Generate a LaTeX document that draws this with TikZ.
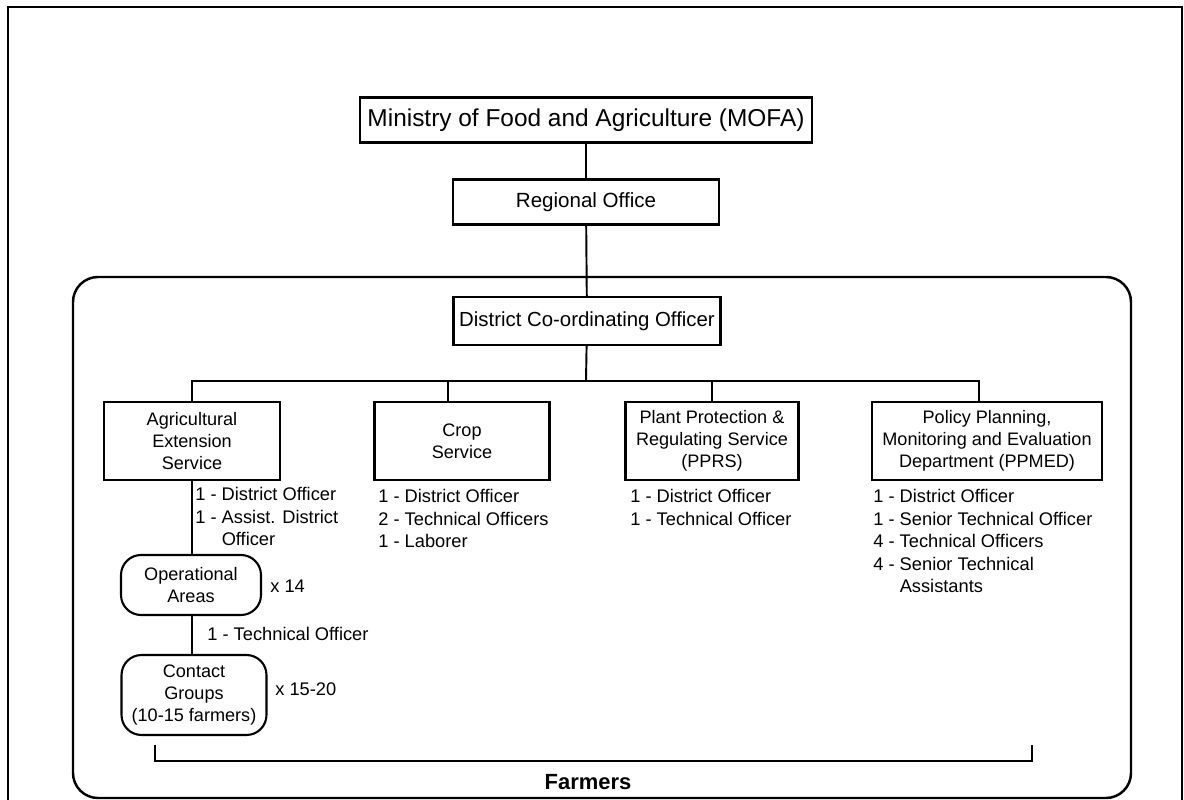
\documentclass[tikz,border=0pt]{standalone}
\usepackage{fontspec}
\setmainfont{Liberation Sans}
\usetikzlibrary{calc,positioning}
\tikzset{
  link/.style={line width=1.1pt},
  unit/.style={draw,line width=1.2pt,fill=white,align=center,inner sep=2pt,font=\fontsize{10.3}{12.4}\selectfont},
  areabox/.style={unit,rounded corners=0.4cm},
  staff/.style={anchor=north west,align=left,inner sep=0pt,font=\fontsize{10.4}{12.8}\selectfont},
  mult/.style={anchor=west,inner sep=0pt,font=\fontsize{10.4}{12.8}\selectfont}
}
\begin{document}
\begin{tikzpicture}[x=0.02cm,y=-0.02cm]
\useasboundingbox (0,0) rectangle (1184,800);
\draw[line width=0.9pt] (8,800)--(8,7)--(1182,7)--(1182,800);
\draw[line width=1.4pt,rounded corners=0.5cm] (73,277) rectangle (1131,798);
\node[unit,minimum width=9.04cm,minimum height=0.9cm,font=\fontsize{13.9}{15}\selectfont] (mofa) at (586,120) {Ministry of Food and Agriculture (MOFA)};
\node[unit,minimum width=5.32cm,minimum height=0.9cm,font=\fontsize{11.7}{13}\selectfont] (region) at (586,202) {Regional Office};
\node[unit,minimum width=5.34cm,minimum height=0.96cm,font=\fontsize{11.6}{13}\selectfont] (dco) at (587,321) {District Co-ordinating Officer};
\node[unit,minimum width=3.52cm,minimum height=1.56cm] (aes) at (192,441) {Agricultural\\Extension\\Service};
\node[unit,minimum width=3.5cm,minimum height=1.56cm] (crop) at (462,441) {Crop\\Service};
\node[unit,minimum width=3.46cm,minimum height=1.56cm] (pprs) at (712,441) {Plant Protection \&\\Regulating Service\\(PPRS)};
\node[unit,minimum width=4.6cm,minimum height=1.56cm] (ppmed) at (987,441) {Policy Planning,\\Monitoring and Evaluation\\Department (PPMED)};
\node[areabox,minimum width=2.8cm,minimum height=1.2cm] (ops) at (191,585) {Operational\\Areas};
\node[areabox,minimum width=2.9cm,minimum height=1.6cm] (contact) at (194,695) {Contact\\Groups\\(10-15 farmers)};
\coordinate (bus) at (586,381);
\coordinate (cropT) at ([xshift=-0.28cm]crop.north);
\coordinate (ppmedT) at ([xshift=-0.16cm]ppmed.north);
\draw[link] (mofa)--(region);
\draw[link] (region)--(dco);
\draw[link] (dco)--(bus);
\draw[link] (aes.north) |- (bus) -| (ppmedT);
\draw[link] (cropT)--(cropT |- bus);
\draw[link] (pprs.north)--(pprs.north |- bus);
\draw[link] (aes.south)--(aes.south |- ops.north);
\draw[link] ([xshift=0.02cm]ops.south)--([xshift=0.02cm]ops.south |- contact.north);
\node[staff] (aesStaff) at (195,487) {1 - District Officer\\1 - Assist. District\\\phantom{1 - }Officer};
\node[staff] (cropStaff) at (378,489) {1 - District Officer\\2 - Technical Officers\\1 - Laborer};
\node[staff] (pprsStaff) at (630,489) {1 - District Officer\\1 - Technical Officer};
\node[staff] (ppmedStaff) at (873,489) {1 - District Officer\\1 - Senior Technical Officer\\4 - Technical Officers\\4 - Senior Technical\\\phantom{4 - }Assistants};
\node[mult] (opsN) at (270,586) {x 14};
\node[mult] (opsStaff) at (207,634) {1 - Technical Officer};
\node[mult] (contactN) at (275,689) {x 15-20};
\coordinate (farmL) at (155,761);
\coordinate (farmR) at (1032,761);
\draw[link] ([yshift=0.32cm]farmL)--(farmL)--(farmR)--([yshift=0.32cm]farmR);
\node[font=\bfseries\fontsize{12.5}{14}\selectfont] (farmers) at (588,782) {Farmers};
\end{tikzpicture}
\end{document}
